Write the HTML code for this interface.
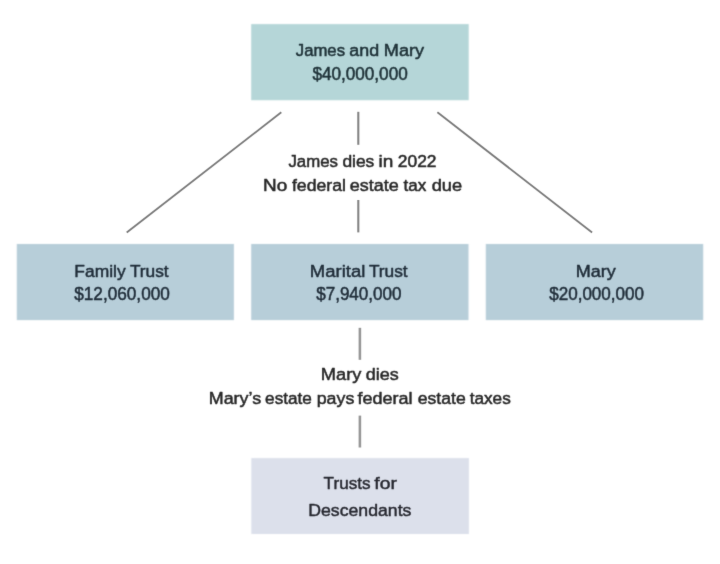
<!DOCTYPE html>
<html lang="en">
<head>
<meta charset="utf-8">
<title>Estate plan flow chart</title>
<style>
  html, body { margin: 0; padding: 0; background: #ffffff; }
  body { width: 720px; height: 564px; overflow: hidden; }
  svg { display: block; }
  text {
    font-family: "Liberation Sans", sans-serif;
    font-size: 17.2px;
    stroke-width: 0.45px;
    stroke-linejoin: round;
  }
  text.d { font-size: 17.5px; }
  text.b1 { fill: #1f3238; stroke: #1f3238; stroke-width: 0.55px; }
  text.b2 { fill: #1f2c38; stroke: #1f2c38; stroke-width: 0.5px; }
  text.b3 { fill: #26272f; stroke: #26272f; stroke-width: 0.45px; }
  text.w  { fill: #272727; stroke: #272727; stroke-width: 0.5px; }
</style>
</head>
<body>
<svg width="720" height="564" viewBox="0 0 720 564">
  <defs>
    <filter id="soft" x="0" y="0" width="720" height="564" filterUnits="userSpaceOnUse" color-interpolation-filters="sRGB">
      <feConvolveMatrix order="5" kernelMatrix="0.0000 0.0010 0.0033 0.0010 0.0000 0.0010 0.0353 0.1153 0.0353 0.0010 0.0033 0.1153 0.3764 0.1153 0.0033 0.0010 0.0353 0.1153 0.0353 0.0010 0.0000 0.0010 0.0033 0.0010 0.0000" edgeMode="duplicate" preserveAlpha="false"/>
    </filter>
    <filter id="softline" x="0" y="0" width="720" height="564" filterUnits="userSpaceOnUse" color-interpolation-filters="sRGB">
      <feConvolveMatrix order="5" kernelMatrix="0.0000 0.0000 0.0000 0.0000 0.0000 0.0000 0.0052 0.0619 0.0052 0.0000 0.0000 0.0619 0.7312 0.0619 0.0000 0.0000 0.0052 0.0619 0.0052 0.0000 0.0000 0.0000 0.0000 0.0000 0.0000" edgeMode="duplicate" preserveAlpha="false"/>
    </filter>
    <filter id="softtext" x="0" y="0" width="720" height="564" filterUnits="userSpaceOnUse" color-interpolation-filters="sRGB">
      <feConvolveMatrix order="5" kernelMatrix="0.0000 0.0000 0.0002 0.0000 0.0000 0.0000 0.0113 0.0837 0.0113 0.0000 0.0002 0.0837 0.6187 0.0837 0.0002 0.0000 0.0113 0.0837 0.0113 0.0000 0.0000 0.0000 0.0002 0.0000 0.0000" edgeMode="duplicate" preserveAlpha="false"/>
    </filter>
  </defs>
  <rect x="0" y="0" width="720" height="564" fill="#ffffff"/>

  <!-- boxes -->
  <g class="shapes" filter="url(#soft)">
  <rect x="251.2" y="24.1" width="217.5" height="76.1" fill="#b5d6d8"/>
  <rect x="16.8" y="244" width="217.1" height="76.1" fill="#b7ced9"/>
  <rect x="251.2" y="244" width="217.3" height="76.1" fill="#b7ced9"/>
  <rect x="485.8" y="244" width="217.4" height="76.1" fill="#b7ced9"/>
  <rect x="251.3" y="458.1" width="217.6" height="75.9" fill="#dce0eb"/>

  </g>

  <!-- connectors -->
  <g class="lines" filter="url(#softline)">
  <g stroke="#7c7c7c" stroke-width="1.8" fill="none" stroke-linecap="butt">
    <line x1="281.3" y1="112.3" x2="126.7" y2="232.5"/>
    <line x1="437.4" y1="112.3" x2="592.1" y2="232.5"/>
  </g>
  <g stroke="#858585" stroke-width="2.1" fill="none">
    <line x1="358.3" y1="111.8" x2="358.3" y2="144.8"/>
    <line x1="358.3" y1="200" x2="358.3" y2="232.4"/>
  </g>
  <g stroke="#999999" stroke-width="2.6" fill="none">
    <line x1="359.9" y1="327.8" x2="359.9" y2="359.8"/>
    <line x1="359.9" y1="415.6" x2="359.9" y2="447.5"/>
  </g>
  </g>

  <!-- labels -->
  <g class="labels" filter="url(#softtext)">
  <text class="b1" y="55.8"><tspan x="295.80" textLength="49.18" lengthAdjust="spacingAndGlyphs">James</tspan> <tspan x="349.30" textLength="29.78" lengthAdjust="spacingAndGlyphs">and</tspan> <tspan x="383.84" textLength="40.33" lengthAdjust="spacingAndGlyphs">Mary</tspan></text>
  <text class="b1 d" y="79.7"><tspan x="312.40" textLength="95.34" lengthAdjust="spacingAndGlyphs">$40,000,000</tspan></text>
  <text class="w" y="166.6"><tspan x="288.40" textLength="49.48" lengthAdjust="spacingAndGlyphs">James</tspan> <tspan x="342.40" textLength="31.90" lengthAdjust="spacingAndGlyphs">dies</tspan> <tspan x="378.59" textLength="14.83" lengthAdjust="spacingAndGlyphs">in</tspan> <tspan x="397.80" textLength="38.77" lengthAdjust="spacingAndGlyphs">2022</tspan></text>
  <text class="w" y="191.0"><tspan x="263.00" textLength="24.22" lengthAdjust="spacingAndGlyphs">No</tspan> <tspan x="291.90" textLength="54.04" lengthAdjust="spacingAndGlyphs">federal</tspan> <tspan x="349.70" textLength="48.98" lengthAdjust="spacingAndGlyphs">estate</tspan> <tspan x="403.60" textLength="22.80" lengthAdjust="spacingAndGlyphs">tax</tspan> <tspan x="431.70" textLength="30.39" lengthAdjust="spacingAndGlyphs">due</tspan></text>
  <text class="b2" y="277.1"><tspan x="74.39" textLength="51.30" lengthAdjust="spacingAndGlyphs">Family</tspan> <tspan x="129.90" textLength="38.77" lengthAdjust="spacingAndGlyphs">Trust</tspan></text>
  <text class="b2 d" y="300.2"><tspan x="74.20" textLength="95.64" lengthAdjust="spacingAndGlyphs">$12,060,000</tspan></text>
  <text class="b2" y="277.1"><tspan x="309.82" textLength="55.46" lengthAdjust="spacingAndGlyphs">Marital</tspan> <tspan x="368.90" textLength="38.77" lengthAdjust="spacingAndGlyphs">Trust</tspan></text>
  <text class="b2 d" y="300.2"><tspan x="316.20" textLength="85.34" lengthAdjust="spacingAndGlyphs">$7,940,000</tspan></text>
  <text class="b2" y="277.1"><tspan x="575.65" textLength="40.02" lengthAdjust="spacingAndGlyphs">Mary</tspan></text>
  <text class="b2 d" y="300.2"><tspan x="549.20" textLength="94.84" lengthAdjust="spacingAndGlyphs">$20,000,000</tspan></text>
  <text class="w" y="379.6"><tspan x="320.74" textLength="40.63" lengthAdjust="spacingAndGlyphs">Mary</tspan> <tspan x="365.80" textLength="33.02" lengthAdjust="spacingAndGlyphs">dies</tspan></text>
  <text class="w" y="403.6"><tspan x="208.76" textLength="52.36" lengthAdjust="spacingAndGlyphs">Mary’s</tspan> <tspan x="265.10" textLength="46.76" lengthAdjust="spacingAndGlyphs">estate</tspan> <tspan x="316.71" textLength="37.60" lengthAdjust="spacingAndGlyphs">pays</tspan> <tspan x="357.50" textLength="55.06" lengthAdjust="spacingAndGlyphs">federal</tspan> <tspan x="417.75" textLength="47.92" lengthAdjust="spacingAndGlyphs">estate</tspan> <tspan x="469.70" textLength="41.09" lengthAdjust="spacingAndGlyphs">taxes</tspan></text>
  <text class="b3" y="488.5"><tspan x="323.60" textLength="46.99" lengthAdjust="spacingAndGlyphs">Trusts</tspan> <tspan x="374.30" textLength="22.59" lengthAdjust="spacingAndGlyphs">for</tspan></text>
  <text class="b3" y="516.4"><tspan x="308.27" textLength="103.14" lengthAdjust="spacingAndGlyphs">Descendants</tspan></text>
  </g>
</svg>
</body>
</html>
